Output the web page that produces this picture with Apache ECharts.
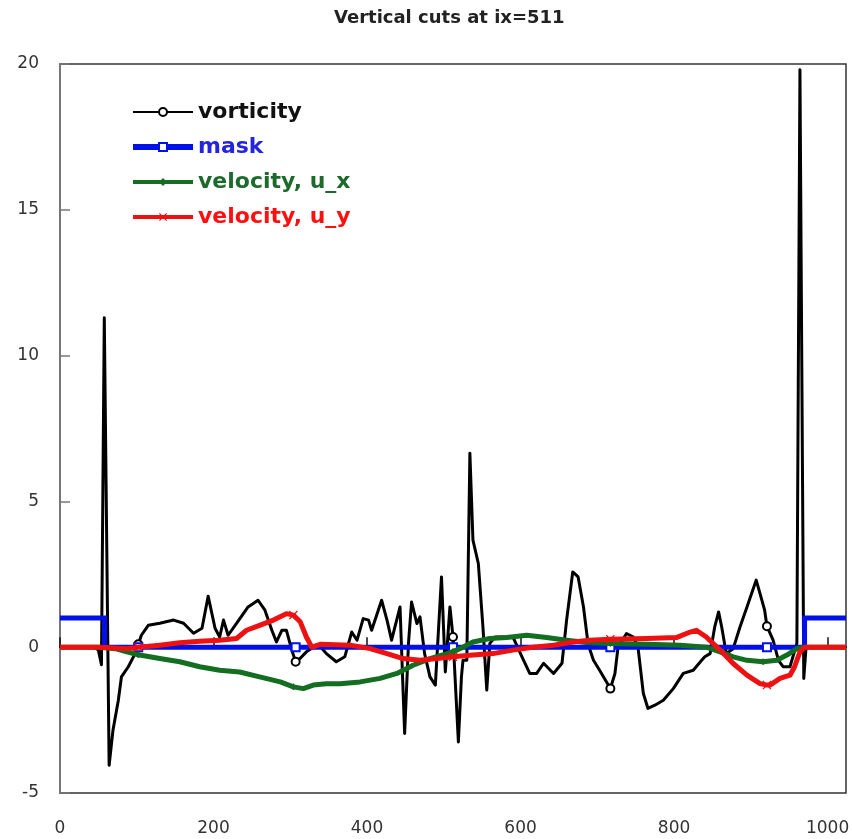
<!DOCTYPE html>
<html>
<head>
<meta charset="utf-8">
<script src="https://cdn.jsdelivr.net/npm/echarts@6/dist/echarts.min.js"></script>
<style>
  html, body { margin: 0; padding: 0; background: #fff; }
  #chart { width: 852px; height: 839px; }
</style>
</head>
<body>
<div id="chart"></div>
<script>
// Vertical cut through the field at ix = 511 (grid rows 0..1024)
const vortX = [0, 45, 50, 54, 57.7, 64, 69, 76, 80, 89, 98, 102, 106, 115, 130, 148, 161, 174, 185, 193,
  202, 208, 213, 219, 230, 245, 258, 267, 276, 282, 289, 295, 302, 307, 313, 321, 330, 340, 347, 360,
  371, 380, 387, 395, 402, 406, 419, 426, 432, 443, 449, 454, 458, 465, 469, 475, 482, 489, 497, 502,
  508, 512, 519, 523, 525, 530, 534, 538, 545, 551, 556, 560, 567, 590, 604, 612, 621, 630, 643, 654,
  660, 668, 675, 682, 688, 695, 703, 717, 723, 727, 738, 747, 753, 760, 766, 775, 786, 799, 812, 825,
  836, 840, 847, 853, 858, 862, 868, 877, 886, 895, 901, 907, 912, 918, 921, 929, 936, 942, 951, 960,
  964, 969, 972, 1024];
const vortY = [0, 0, -0.1, -0.6, 11.3, -4.05, -2.85, -1.82, -1.02, -0.67, -0.21, 0.1, 0.41, 0.75, 0.82, 0.93, 0.82, 0.48, 0.65, 1.75,
  0.65, 0.35, 0.93, 0.41, 0.82, 1.38, 1.61, 1.27, 0.58, 0.18, 0.58, 0.58, -0.1, -0.5, -0.38, -0.16, 0, 0, -0.22, -0.5,
  -0.33, 0.52, 0.24, 0.98, 0.93, 0.58, 1.61, 0.93, 0.24, 1.38, -2.96, 0.13, 1.55, 0.81, 1.04, -0.22, -1.02, -1.3, 2.41, -0.85,
  1.38, 0.35, -3.25, -1.02, -0.45, -0.45, 6.65, 3.67, 2.87, 0.7, -1.47, 0.13, 0.35, 0.35, -0.45, -0.9, -0.9, -0.55, -0.9, -0.55,
  0.93, 2.58, 2.41, 1.38, 0.1, -0.45, -0.79, -1.42, -0.9, 0, 0.47, 0.35, 0, -1.59, -2.1, -1.99, -1.82, -1.42, -0.9, -0.79,
  -0.45, -0.33, -0.22, 0.7, 1.21, 0.7, -0.22, -0.05, 0.7, 1.38, 1.84, 2.3, 1.84, 1.27, 0.72, 0.24, -0.45, -0.67, -0.67, 0.13,
  19.8, -1.07, 0, 0];

const maskX = [0, 58, 58, 102, 307, 512, 717, 921, 970, 970, 1024];
const maskY = [1, 1, 0, 0, 0, 0, 0, 0, 0, 1, 1];

const uxX = [0, 52, 72, 87, 102, 130, 156, 182, 208, 234, 260, 287, 304, 317, 330, 347, 365, 391, 417, 439,
  460, 482, 504, 512, 521, 538, 560, 582, 608, 634, 660, 686, 717, 764, 808, 842, 860, 877, 895, 916,
  934, 947, 960, 970, 1024];
const uxY = [0, 0, -0.05, -0.16, -0.26, -0.39, -0.5, -0.67, -0.79, -0.85, -1.02, -1.19, -1.36, -1.42, -1.3, -1.25, -1.25, -1.19, -1.07, -0.9,
  -0.62, -0.39, -0.22, -0.15, -0.05, 0.18, 0.3, 0.33, 0.41, 0.33, 0.24, 0.16, 0.13, 0.1, 0.07, 0, -0.16, -0.33, -0.45, -0.5,
  -0.45, -0.27, -0.05, 0, 0];

const uyX = [0, 52, 87, 102, 130, 156, 182, 208, 230, 243, 260, 278, 295, 304, 313, 321, 328, 339, 378, 404,
  426, 447, 469, 491, 512, 538, 564, 590, 616, 643, 669, 690, 717, 764, 803, 821, 829, 842, 860, 877,
  895, 912, 921, 925, 938, 951, 957, 964, 970, 1024];
const uyY = [0, 0, -0.05, 0, 0.07, 0.15, 0.2, 0.24, 0.3, 0.58, 0.75, 0.93, 1.15, 1.1, 0.87, 0.35, 0, 0.1, 0.07, -0.05,
  -0.22, -0.39, -0.45, -0.39, -0.33, -0.27, -0.22, -0.1, 0, 0.07, 0.18, 0.24, 0.27, 0.3, 0.33, 0.52, 0.58, 0.35, -0.1, -0.56,
  -0.96, -1.25, -1.3, -1.3, -1.07, -0.96, -0.67, -0.16, 0, 0];

// rows where each curve carries a marker symbol
const markerRows = [102, 307, 512, 717, 921];

const seriesNames = ['vorticity', 'mask', 'velocity, u_x', 'velocity, u_y'];

// Build line data; only the point nearest each marker row keeps its symbol.
function buildData(xs, ys) {
  const marked = new Set();
  markerRows.forEach(function (m) {
    let best = 0;
    xs.forEach(function (x, i) { if (Math.abs(x - m) < Math.abs(xs[best] - m)) best = i; });
    marked.add(best);
  });
  return xs.map(function (x, i) {
    const item = { value: [x, ys[i]] };
    if (!marked.has(i)) item.symbol = 'none';
    return item;
  });
}

const crossSymbol = 'path://M0,1L1,0L5,4L9,0L10,1L6,5L10,9L9,10L5,6L1,10L0,9L4,5Z';

const chart = echarts.init(document.getElementById('chart'), null, { renderer: 'canvas' });

const common = {
  type: 'line',
  showSymbol: true,
  showAllSymbol: true,
  animation: false,
  emphasis: { disabled: true }
};

chart.setOption({
  backgroundColor: '#ffffff',
  animation: false,
  title: {
    text: 'Vertical cuts at ix=511',
    left: 334,
    top: 9,
    padding: 0,
    textStyle: { fontFamily: 'DejaVu Sans', fontWeight: 'bold', fontSize: 18, color: '#222' }
  },
  legend: {
    orient: 'vertical',
    left: 130,
    top: 100,
    padding: 0,
    itemWidth: 60,
    itemHeight: 10,
    itemGap: 11,
    selectedMode: false,
    textStyle: { fontFamily: 'DejaVu Sans', fontWeight: 'bold', fontSize: 22, lineHeight: 24 },
    data: [
      { name: seriesNames[0], textStyle: { color: '#111111' }, lineStyle: { width: 2 } },
      { name: seriesNames[1], textStyle: { color: '#2424e0' }, lineStyle: { width: 6 } },
      { name: seriesNames[2], textStyle: { color: '#1c6b2c' }, lineStyle: { width: 4 } },
      { name: seriesNames[3], textStyle: { color: '#ff1010' }, lineStyle: { width: 4 } }
    ]
  },
  grid: {
    left: 60, right: 6, top: 64, bottom: 46,
    show: true, borderColor: '#333', borderWidth: 1.5,
    outerBoundsMode: 'none'
  },
  xAxis: {
    type: 'value',
    min: 0, max: 1024, interval: 200,
    splitLine: { show: false },
    axisLine: { show: true, lineStyle: { color: '#111', width: 2 } },
    axisTick: { show: true, inside: true, length: 10, lineStyle: { color: '#111', width: 1.5 } },
    axisLabel: {
      margin: 27, showMaxLabel: false,
      fontFamily: 'DejaVu Sans', fontSize: 17, color: '#333',
      formatter: function (v) { return v % 200 === 0 ? String(v) : ''; }
    }
  },
  yAxis: {
    type: 'value',
    min: -5, max: 20, interval: 5,
    splitLine: { show: false },
    axisLine: { show: true, lineStyle: { color: '#777', width: 2 } },
    axisTick: { show: true, inside: true, length: 10, lineStyle: { color: '#777', width: 1.5 } },
    axisLabel: { margin: 21, fontFamily: 'DejaVu Sans', fontSize: 17, color: '#333' }
  },
  series: [
    Object.assign({}, common, {
      name: seriesNames[0], z: 2,
      data: buildData(vortX, vortY),
      symbol: 'emptyCircle', symbolSize: 8,
      lineStyle: { color: '#000', width: 3, join: 'round' },
      itemStyle: { color: '#000', borderWidth: 1.5 }
    }),
    Object.assign({}, common, {
      name: seriesNames[1], z: 3,
      data: buildData(maskX, maskY),
      symbol: 'emptyRect', symbolSize: 8,
      lineStyle: { color: '#0010e8', width: 5, join: 'miter' },
      itemStyle: { color: '#0010e8', borderWidth: 1.5 }
    }),
    Object.assign({}, common, {
      name: seriesNames[2], z: 4,
      data: buildData(uxX, uxY),
      symbol: 'diamond', symbolSize: 7,
      lineStyle: { color: '#136e22', width: 5, join: 'round' },
      itemStyle: { color: '#136e22' }
    }),
    Object.assign({}, common, {
      name: seriesNames[3], z: 5,
      data: buildData(uyX, uyY),
      symbol: crossSymbol, symbolSize: 9,
      lineStyle: { color: '#ee1111', width: 5, join: 'round' },
      itemStyle: { color: '#ee1111' }
    })
  ]
});
</script>
</body>
</html>
